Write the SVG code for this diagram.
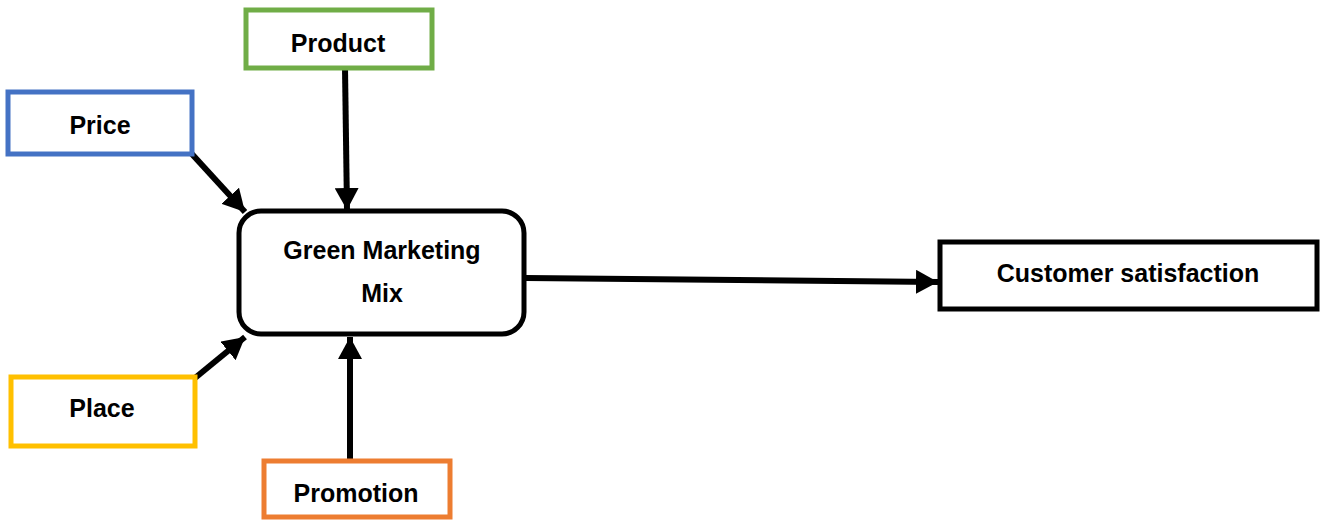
<svg xmlns="http://www.w3.org/2000/svg" width="1322" height="520" viewBox="0 0 1322 520">
<style>
.box{fill:#fff;stroke-width:5}
.t{font-family:"Liberation Sans",Arial,sans-serif;font-weight:bold;font-size:25px;fill:#000;text-anchor:middle}
.c{stroke:#000;stroke-width:6;fill:none;marker-end:url(#ah)}
</style>
<defs>
<marker id="ah" markerUnits="userSpaceOnUse" markerWidth="24" markerHeight="24" viewBox="0 0 24 24" refX="22" refY="12" orient="auto">
<path d="M0,0 L22,12 L0,24 Z" fill="#000"/>
</marker>
</defs>
<rect width="1322" height="520" fill="#fff"/>
<g id="connectors">
<line class="c" x1="345" y1="68" x2="347" y2="210"/>
<line class="c" x1="191" y1="153" x2="245" y2="212"/>
<line class="c" x1="195" y1="378" x2="245" y2="337"/>
<line class="c" x1="350" y1="461" x2="350" y2="337"/>
<line class="c" x1="526" y1="278" x2="938" y2="282"/>
</g>
<g id="product">
<rect class="box" x="246" y="10" width="186" height="58" stroke="#70AD47"/>
<text class="t" x="338" y="52">Product</text>
</g>
<g id="price">
<rect class="box" x="8" y="92" width="184" height="62" stroke="#4472C4"/>
<text class="t" x="100" y="134">Price</text>
</g>
<g id="mix">
<rect x="239" y="211" width="285" height="123" rx="22" fill="#fff" stroke="#000" stroke-width="5"/>
<text class="t" x="382" y="259">Green Marketing</text>
<text class="t" x="382" y="302">Mix</text>
</g>
<g id="place">
<rect class="box" x="11" y="377" width="184" height="69" stroke="#FFC000"/>
<text class="t" x="102" y="417">Place</text>
</g>
<g id="promotion">
<rect class="box" x="264" y="461" width="186" height="56" stroke="#ED7D31"/>
<text class="t" x="356" y="502">Promotion</text>
</g>
<g id="customer">
<rect class="box" x="940" y="242" width="377" height="67" stroke="#000"/>
<text class="t" x="1128" y="282">Customer satisfaction</text>
</g>
</svg>
